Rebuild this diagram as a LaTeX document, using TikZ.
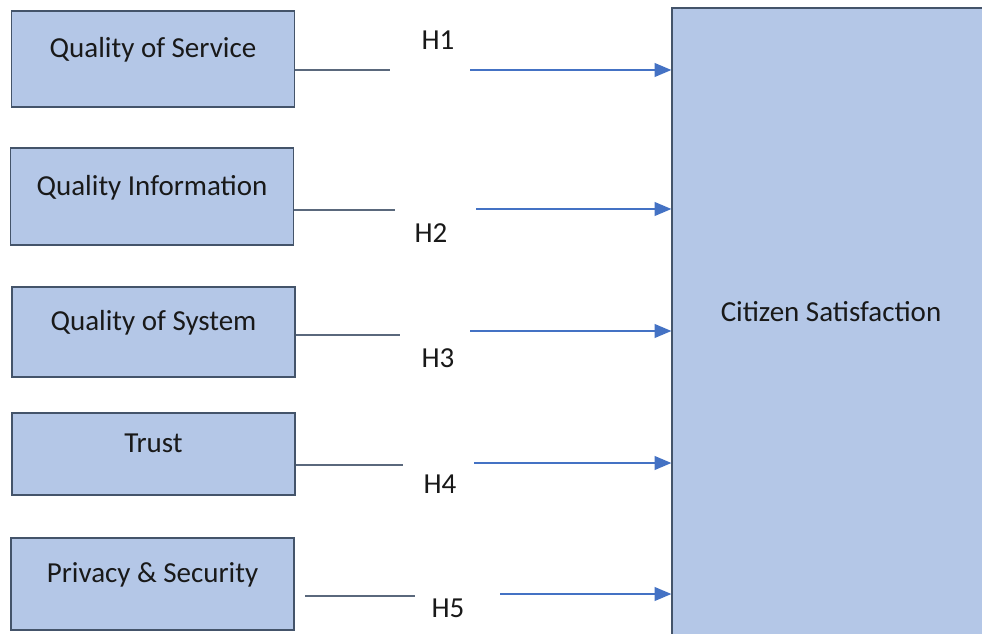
\documentclass[tikz,border=0pt]{standalone}
\usepackage{fontspec}
\setmainfont{Carlito}
\usetikzlibrary{arrows,positioning}
\definecolor{sfbox}{RGB}{180,199,231}
\definecolor{sfborder}{RGB}{68,84,106}
\definecolor{sfline}{RGB}{90,104,124}
\definecolor{sfblue}{RGB}{68,114,196}
\tikzstyle{factor} = [rectangle, minimum width=5.66cm, text height=12pt, text depth=13.5pt, text centered, draw=sfborder, fill=sfbox, line width=0.8pt, text=black!90, font=\fontsize{16.5}{19}\selectfont]
\tikzstyle{link} = [line width=1pt, color=sfline]
\tikzstyle{arrow} = [line width=1.2pt,->,>=triangle 45,color=sfblue]
\tikzstyle{hyp} = [text=black!90, font=\fontsize{16.5}{19}\selectfont]

\begin{document}
\begin{tikzpicture}[x=0.02cm,y=-0.02cm]
\clip (0,0) rectangle (982,634);
\fill[white] (0,0) rectangle (982,634);

\node[factor, minimum height=1.92cm] (qs) at (153,59) {Quality of Service};
\node[factor, minimum height=1.94cm] (qi) at (152,196.5) {Quality Information};
\node[factor, minimum height=1.8cm] (qsy) at (153.5,332) {Quality of System};
\node[factor, minimum height=1.64cm] (tr) at (153.5,454) {Trust};
\node[factor, minimum height=1.84cm] (ps) at (152.5,584) {Privacy \& Security};
\node[factor, minimum width=6.36cm, minimum height=12.6cm] (cs) at (831,323) {Citizen Satisfaction};

\coordinate (a1) at (390,70); \coordinate (b1) at (470,70);
\coordinate (a2) at (395,210); \coordinate (b2) at (476,209);
\coordinate (a3) at (400,335); \coordinate (b3) at (470,331);
\coordinate (a4) at (403,465); \coordinate (b4) at (474,463);
\coordinate (s5) at (305,596); \coordinate (a5) at (415,596); \coordinate (b5) at (500,594);

\draw[link] (qs.east |- a1) -- (a1);
\draw[link] (qi.east |- a2) -- (a2);
\draw[link] (qsy.east |- a3) -- (a3);
\draw[link] (tr.east |- a4) -- (a4);
\draw[link] (s5) -- (a5);

\draw[arrow] (b1) -- (cs.west |- b1);
\draw[arrow] (b2) -- (cs.west |- b2);
\draw[arrow] (b3) -- (cs.west |- b3);
\draw[arrow] (b4) -- (cs.west |- b4);
\draw[arrow] (b5) -- (cs.west |- b5);

\node[hyp] (h1) at (438,40) {H1};
\node[hyp] (h2) at (431,233) {H2};
\node[hyp] (h3) at (438,358) {H3};
\node[hyp] (h4) at (440,484) {H4};
\node[hyp] (h5) at (448,608) {H5};
\end{tikzpicture}
\end{document}
